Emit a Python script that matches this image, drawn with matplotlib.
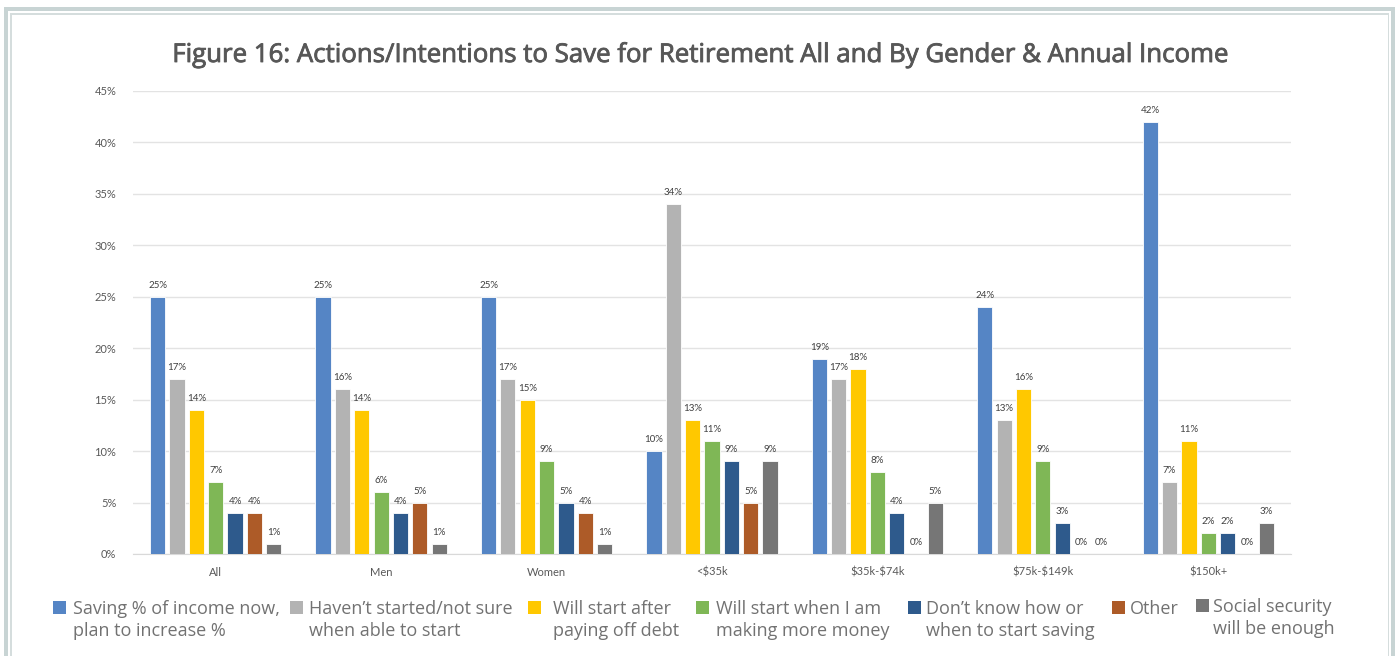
import matplotlib
matplotlib.use("Agg")
import matplotlib.pyplot as plt
import matplotlib.patheffects as pe
from matplotlib.patches import Rectangle
import numpy as np

plt.rcParams["text.parse_math"] = False  # dollar signs in labels are literal

# data (percent)
groups = ["All", "Men", "Women", "<$35k", "$35k-$74k", "$75k-$149k", "$150k+"]
series_names = [
    "Saving % of income now,\nplan to increase %",
    "Haven\u2019t started/not sure\nwhen able to start",
    "Will start after\npaying off debt",
    "Will start when I am\nmaking more money",
    "Don\u2019t know how or\nwhen to start saving",
    "Other",
    "Social security\nwill be enough",
]
saving_now = [25, 25, 25, 10, 19, 24, 42]
not_started = [17, 16, 17, 34, 17, 13, 7]
after_debt = [14, 14, 15, 13, 18, 16, 11]
more_money = [7, 6, 9, 11, 8, 9, 2]
dont_know = [4, 4, 5, 9, 4, 3, 2]
other = [4, 5, 4, 5, 0, 0, 0]
social_sec = [1, 1, 1, 9, 5, 0, 3]
series = [saving_now, not_started, after_debt, more_money, dont_know, other, social_sec]
colors = ["#5585c5", "#b3b3b3", "#ffc800", "#7fb756", "#2e5a8c", "#ad5b28", "#767676"]

W, H = 1400, 656
fig = plt.figure(figsize=(W / 100, H / 100), dpi=100)
fig.patch.set_facecolor("white")

def px(x0, y0, w, h):
    # pixel box (top-left origin) -> figure fraction rect
    return (x0 / W, 1 - (y0 + h) / H, w / W, h / H)

# outer frame (open at the bottom)
frame_col = "#c8d4d4"
for (x0, y0, w, h) in [(4, 7, 4, 700), (4, 7, 1391, 4), (1391, 7, 4, 700)]:
    fig.add_artist(Rectangle(px(x0, y0, w, h)[:2], w / W, h / H, transform=fig.transFigure,
                             facecolor=frame_col, edgecolor="none"))
inner_col = "#d5dddd"
for (x0, y0, w, h) in [(10, 13, 1.5, 700), (10, 13, 1379, 1.5), (1387.5, 13, 1.5, 700)]:
    fig.add_artist(Rectangle(px(x0, y0, w, h)[:2], w / W, h / H, transform=fig.transFigure,
                             facecolor=inner_col, edgecolor="none"))

ax = fig.add_axes([133 / W, 1 - 554 / H, (1291 - 133) / W, (554 - 91) / H])

x = np.arange(len(groups))
step = 0.117
width = 0.092
for j, vals in enumerate(series):
    pos = x + (j - 3) * step
    bars = ax.bar(pos, vals, width=width, color=colors[j], edgecolor="white", linewidth=0.6, zorder=3)
    for b, v in zip(bars, vals):
        ax.annotate(f"{v}%", (b.get_x() + b.get_width() / 2, v), xytext=(0, 5),
                    textcoords="offset points", ha="center", va="bottom",
                    fontsize=7, color="#404040", family="Lato")

ax.set_xlim(-0.5, len(groups) - 0.5)
ax.set_ylim(0, 45)
ax.set_yticks(np.arange(0, 46, 5))
ax.set_yticklabels([f"{t}%" for t in range(0, 46, 5)], family="Lato", fontsize=8, color="#595959")
ax.set_xticks(x)
ax.set_xticklabels(groups, family="Lato", fontsize=8, color="#595959")
ax.tick_params(axis="both", length=0)
ax.tick_params(axis="y", pad=12)
ax.tick_params(axis="x", pad=9)
ax.yaxis.grid(True, color="#e3e3e3", linewidth=1, zorder=0)
for s in ["left", "right", "top"]:
    ax.spines[s].set_visible(False)
ax.spines["bottom"].set_color("#d9d9d9")
ax.set_facecolor("white")

# title: regular weight thickened a touch to look like the medium face in the original
fig.text(703 / W, 1 - 62 / H,
         "Figure 16: Actions/Intentions to Save for Retirement All and By Gender & Annual Income",
         ha="center", va="baseline", fontsize=18.6, color="#575757", family="Open Sans",
         path_effects=[pe.withStroke(linewidth=0.6, foreground="#575757")])

# legend placed by hand along the bottom
sq_x = [53, 290, 528, 696, 908, 1112, 1196]
txt_x = [73, 309, 553, 716, 926, 1130, 1213]
for i, name in enumerate(series_names):
    ytop = 601 if i != 6 else 599
    fig.add_artist(Rectangle(px(sq_x[i], ytop, 13, 13)[:2], 13 / W, 13 / H,
                             transform=fig.transFigure, facecolor=colors[i], edgecolor="none"))
    fig.text(txt_x[i] / W, 1 - (ytop - 1) / H, name, ha="left", va="top",
             fontsize=13, color="#727272", family="Open Sans",
             linespacing=1.28)

fig.savefig("out.png", dpi=100)
